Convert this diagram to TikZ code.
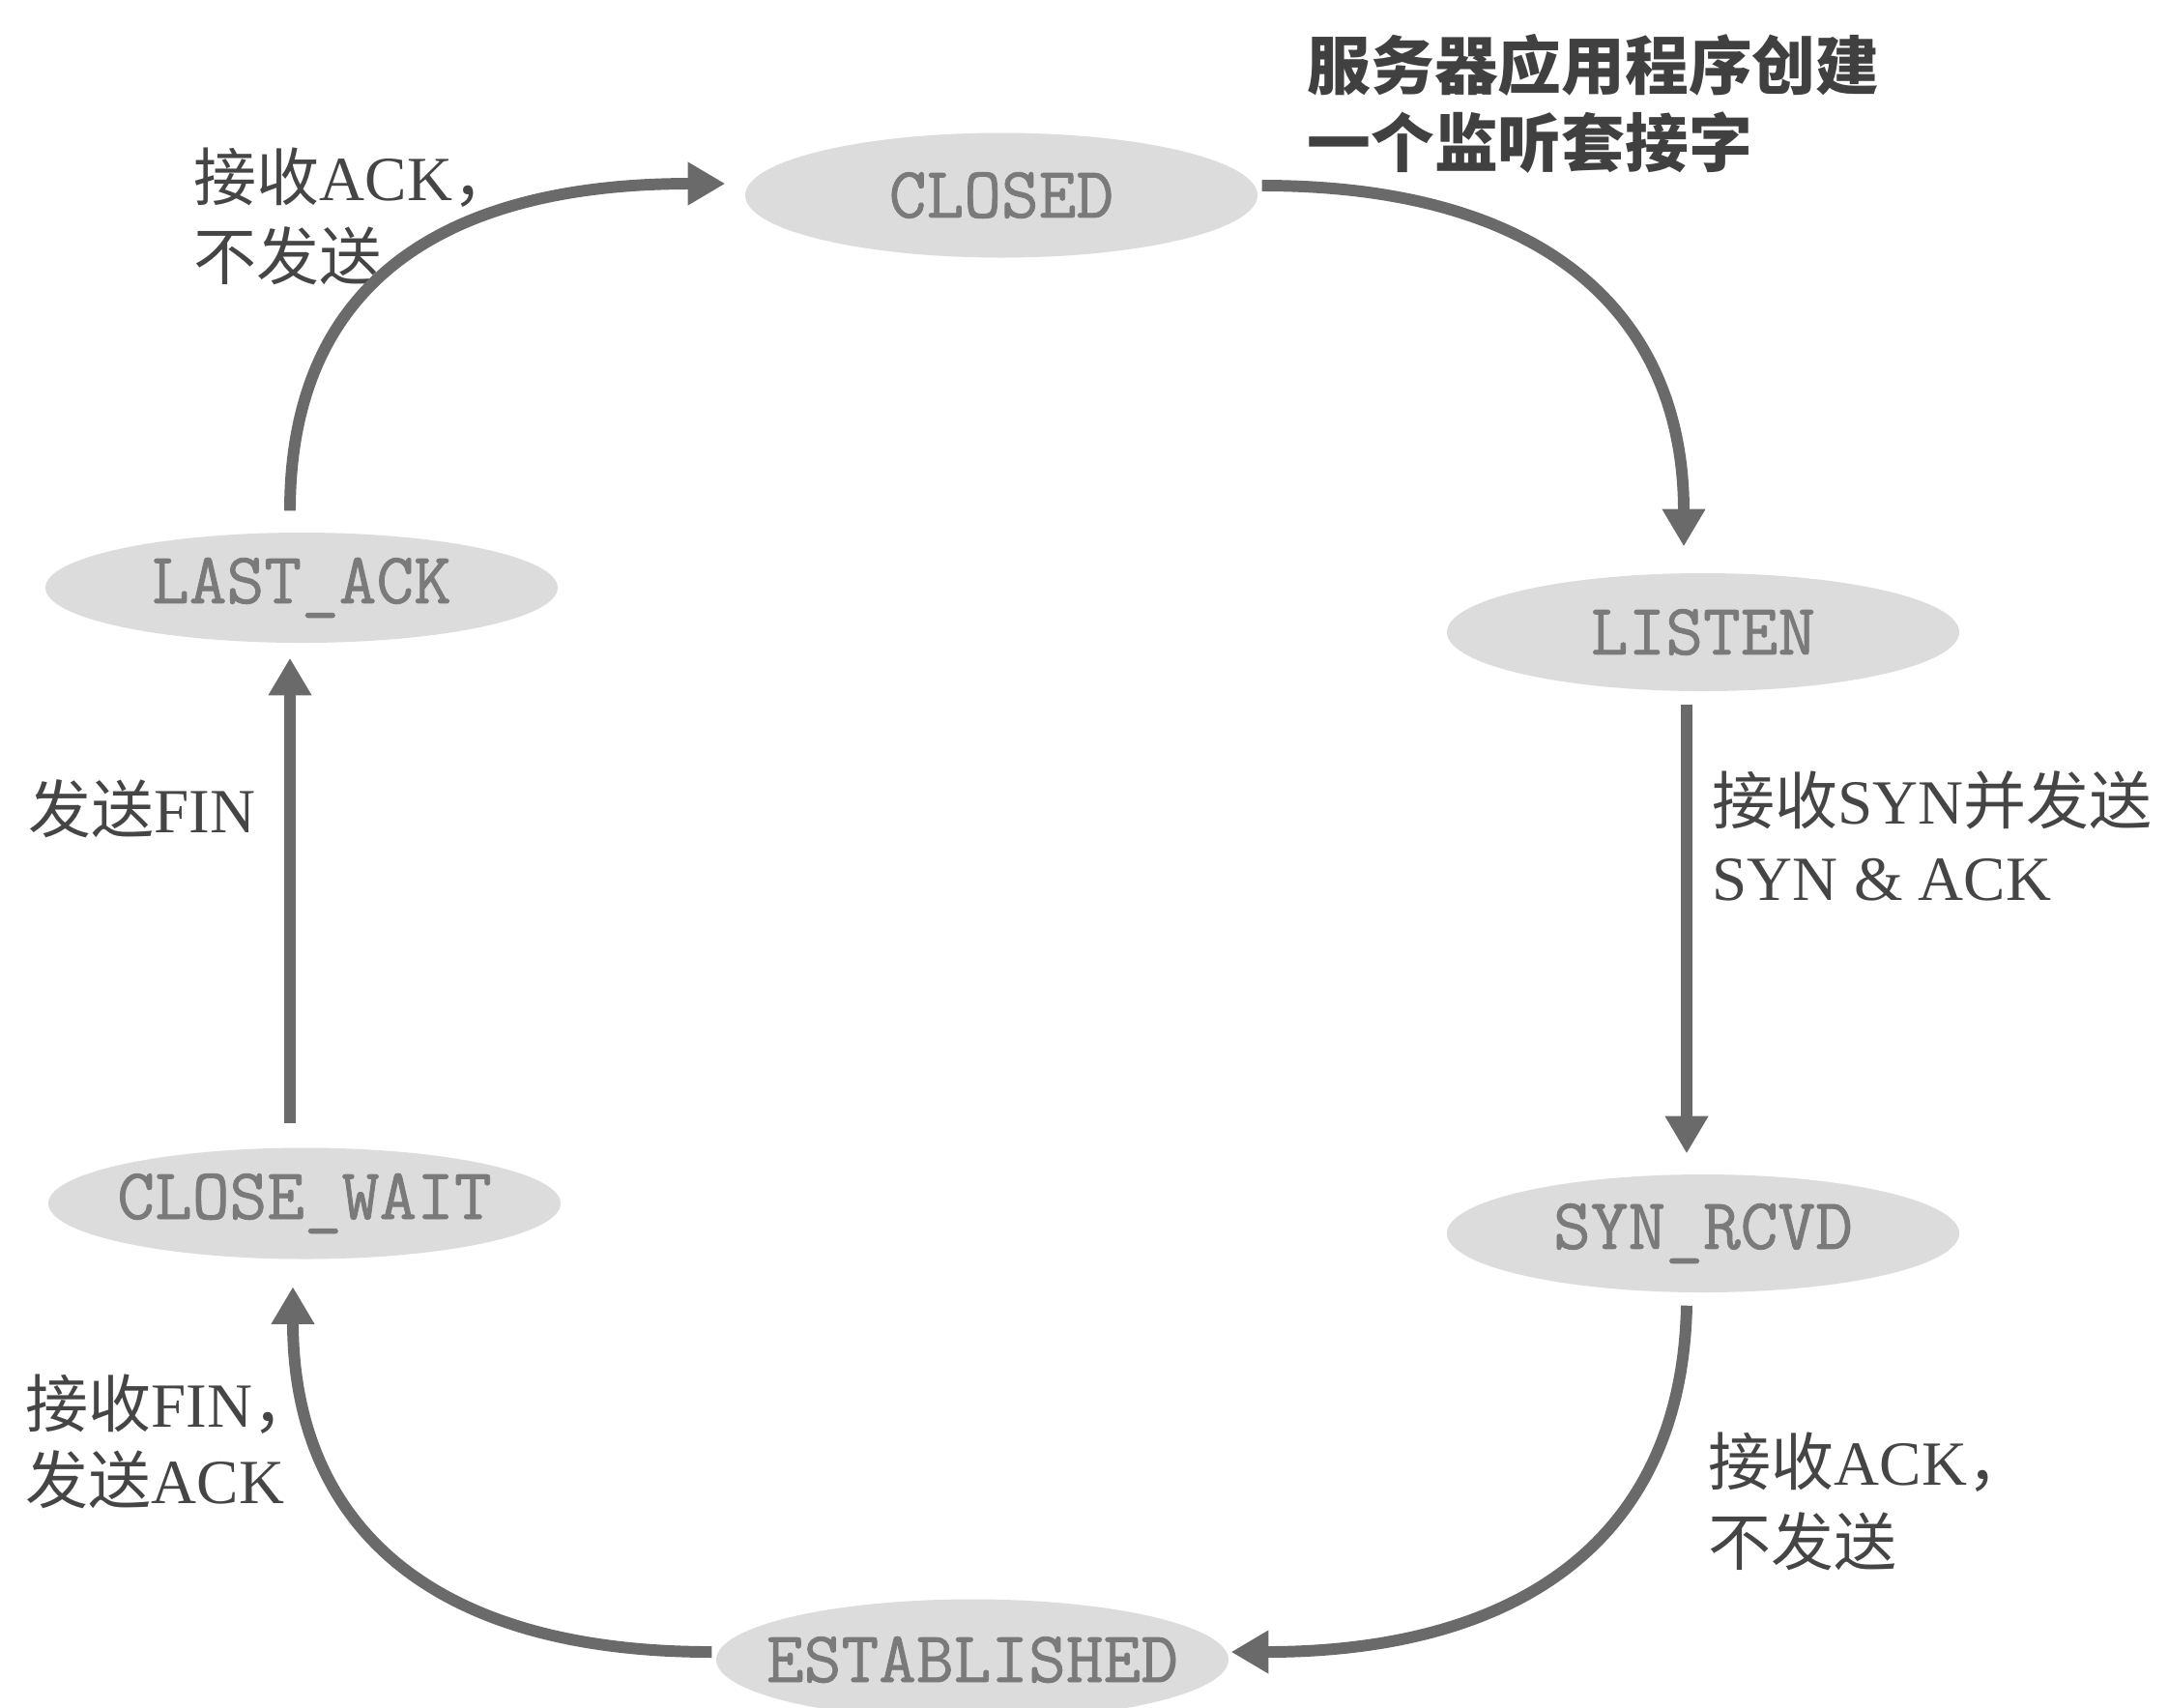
\documentclass[tikz,border=0pt]{standalone}
\usepackage{fontspec}
\setmainfont{Liberation Serif}
\newfontfamily\statefont[FakeBold=1]{Latin Modern Mono}
\newfontfamily\zh{Noto Sans CJK SC}
\usetikzlibrary{arrows.meta,calc,shapes.geometric}
\definecolor{fillgray}{HTML}{DCDCDC}
\definecolor{textgray}{HTML}{7A7A7A}
\definecolor{arrowgray}{HTML}{6A6A6A}
\definecolor{labelgray}{HTML}{454545}
\definecolor{topgray}{HTML}{404040}
\newcommand{\zhs}[1]{{\zh #1}}
\newcommand{\st}[1]{\makebox[0pt][c]{#1}}
\begin{document}
\begin{tikzpicture}[
  state/.style={ellipse, fill=fillgray, minimum width=5.3cm, minimum height=1.22cm, inner sep=0pt, text=textgray, font=\statefont\fontsize{21.4}{24}\selectfont},
  conn/.style={draw=arrowgray, line width=3.4pt, -{Triangle[length=11pt,width=12pt]}},
  lbl/.style={text=labelgray, align=left, inner sep=0pt, anchor=west, font=\fontsize{18.5}{23}\selectfont},
]
\useasboundingbox (0,0) rectangle (22.43,-17.66);
\fill[white] (0,0) rectangle (22.43,-17.66);

\node[state, minimum height=1.29cm] (closed) at (10.36,-2.02) {\st{CLOSED}};
\node[state] (listen) at (17.62,-6.54) {\st{LISTEN}};
\node[state] (syn) at (17.62,-12.76) {\st{SYN\_RCVD}};
\node[state, minimum height=1.25cm] (est) at (10.06,-17.17) {\st{ESTABLISHED}};
\node[state, minimum height=1.15cm] (cw) at (3.15,-12.45) {\st{CLOSE\_WAIT}};
\node[state, minimum height=1.14cm] (la) at (3.12,-6.08) {\st{LAST\_ACK}};

\node[lbl, text=topgray, font=\zh\bfseries\fontsize{18.7}{22.8}\selectfont] (ltop) at (13.52,-1.07) {服务器应用程序创建\\一个监听套接字};
\node[lbl, font=\fontsize{18.5}{23.3}\selectfont] (ltl) at (2.00,-2.24) {\zhs{接收}ACK\zhs{，}\\\zhs{不发送}};
\node[lbl] (lfin) at (0.29,-8.37) {\zhs{发送}FIN};
\node[lbl, font=\fontsize{18.5}{22.5}\selectfont] (lbl4) at (0.26,-14.915) {\zhs{接收}FIN\zhs{，}\\\zhs{发送}ACK};
\node[lbl, font=\fontsize{18.5}{22.5}\selectfont] (lsyn) at (17.71,-8.645) {\zhs{接收}SYN\zhs{并发送}\\SYN \& ACK};
\node[lbl, font=\fontsize{18.5}{23.5}\selectfont] (lbr) at (17.67,-15.535) {\zhs{接收}ACK\zhs{，}\\\zhs{不发送}};

\draw[conn] ($(closed.east)+(0.04,0.1)$) .. controls +(3.0,0) and +(0,2.35) .. ($(listen.north)+(-0.2,0.27)$);
\draw[conn] ($(listen.south)+(-0.17,-0.13)$) -- ($(syn.north)+(-0.17,0.21)$);
\draw[conn] ($(syn.south)+(-0.17,-0.13)$) .. controls +(-0.05,-2.48) and +(2.9,0) .. ($(est.east)+(0.02,0.08)$);
\draw[conn] ($(est.west)+(-0.04,0.08)$) .. controls +(-3.1,0) and +(0,-2.3) .. ($(cw.south)+(-0.12,-0.28)$);
\draw[conn] ($(cw.north)+(-0.15,0.25)$) -- ($(la.south)+(-0.12,-0.15)$);
\draw[conn] ($(la.north)+(-0.12,0.22)$) .. controls +(0,2.29) and +(-3.0,0) .. ($(closed.west)+(-0.2,0.12)$);
\end{tikzpicture}
\end{document}
